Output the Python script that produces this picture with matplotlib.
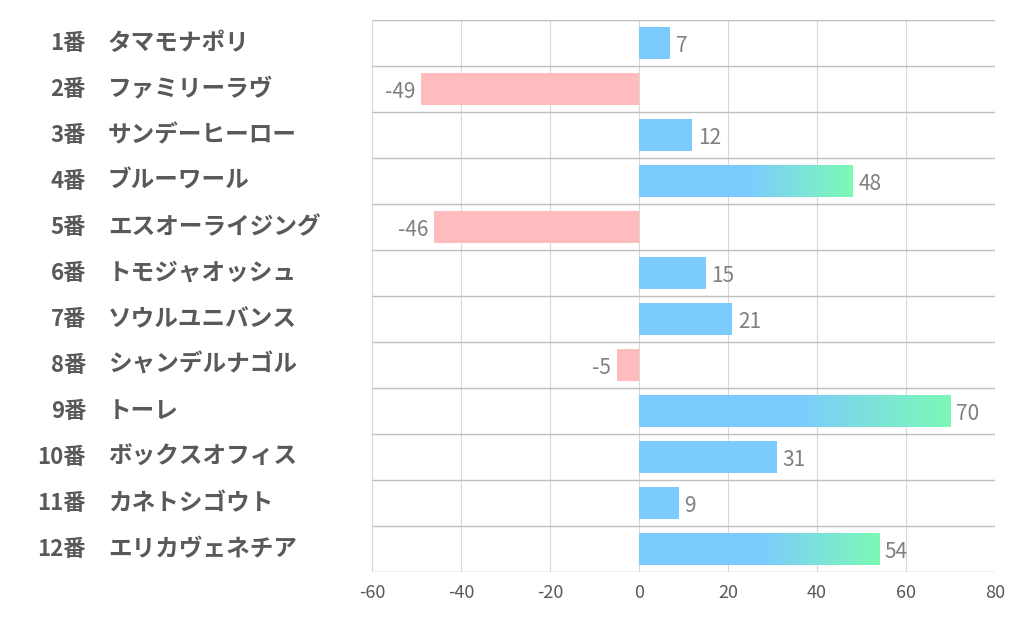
import matplotlib.pyplot as plt
import matplotlib.transforms as mtransforms
import numpy as np
from matplotlib.colors import LinearSegmentedColormap

plt.rcParams['font.family'] = ['Noto Sans CJK JP', 'DejaVu Sans']

numbers = ['1番', '2番', '3番', '4番', '5番', '6番', '7番', '8番', '9番', '10番', '11番', '12番']
names = ['タマモナポリ', 'ファミリーラヴ', 'サンデーヒーロー', 'ブルーワール', 'エスオーライジング',
         'トモジャオッシュ', 'ソウルユニバンス', 'シャンデルナゴル', 'トーレ', 'ボックスオフィス',
         'カネトシゴウト', 'エリカヴェネチア']
values = [7, -49, 12, 48, -46, 15, 21, -5, 70, 31, 9, 54]
xticks = [-60, -40, -20, 0, 20, 40, 60, 80]

blue = '#7ccbff'
green = '#7cf9b6'
pink = '#ffbcbf'
grad = LinearSegmentedColormap.from_list('bg', [blue, green])

fig = plt.figure(figsize=(10.22, 6.26), dpi=100)
ax = fig.add_axes([372 / 1022, 1 - 572 / 626, 623 / 1022, 552 / 626])

y = np.arange(len(values))
h = 0.68
colors = [blue if v >= 0 else pink for v in values]
ax.barh(y, values, height=h, color=colors, zorder=2)

# gradient on the long bars
for yi, v in zip(y, values):
    if v >= 40:
        g = np.linspace(0, 1, 200).reshape(1, -1)
        ax.imshow(g, cmap=grad, extent=[v * 0.5, v, yi + h / 2, yi - h / 2],
                  aspect='auto', zorder=3, interpolation='bilinear')

for yi, v in zip(y, values):
    off = 4 if v >= 0 else -4
    ax.annotate(str(v), (v, yi), xytext=(off, -2), textcoords='offset points',
                ha='left' if v >= 0 else 'right', va='center',
                fontsize=15, color='#7f7f7f')

ax.set_xlim(-60, 80)
ax.set_ylim(len(values) - 0.5, -0.5)
ax.set_xticks(xticks)
ax.set_xticklabels([str(t) for t in xticks], fontsize=13, color='#595959')
ax.set_yticks([])
ax.tick_params(axis='x', length=0, pad=9)

for t in xticks:
    ax.axvline(t, color='#d9d9d9', lw=0.8, zorder=1)
for i in range(len(values) + 1):
    ax.axhline(i - 0.5, color='#bfbfbf', lw=1.0, zorder=1)
for s in ax.spines.values():
    s.set_visible(False)

tr = mtransforms.blended_transform_factory(fig.transFigure, ax.transData)
for yi, n, nm in zip(y, numbers, names):
    ax.text(86 / 1022, yi, n, transform=tr, ha='right', va='center',
            fontsize=16, fontweight='bold', color='#595959')
    ax.text(108 / 1022, yi, nm, transform=tr, ha='left', va='center',
            fontsize=17, fontweight='bold', color='#595959')

fig.savefig('out.png', dpi=100)
